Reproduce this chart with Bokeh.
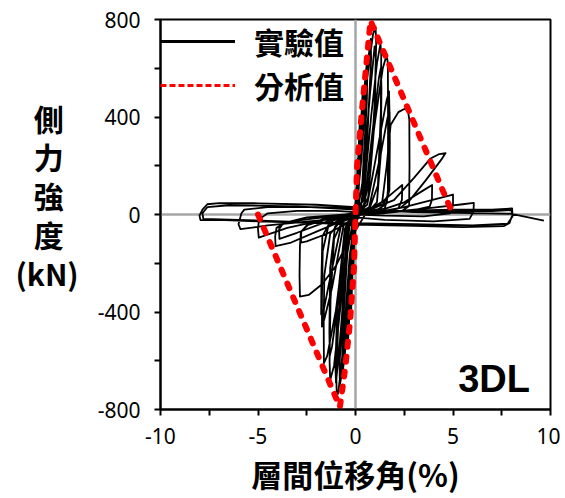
from bokeh.plotting import figure
from bokeh.models import Range1d, FixedTicker, Span, Legend, LegendItem, Label
from bokeh.embed import file_html
from bokeh.resources import INLINE

# ---------------- data ----------------
x_ticks = [-10, -5, 0, 5, 10]
x_minor = [-7.5, -2.5, 2.5, 7.5]
y_ticks = [-800, -400, 0, 400, 800]
y_minor = [-600, -200, 200, 600]

# analytical envelope (drift %, kN)
ana_drift = [-5.0, -0.8, -0.52, -0.28, -0.08, 0.0, 0.08, 0.34, 0.77, 5.0]
ana_force = [0, -790, -625, -440, -220, 0, 200, 435, 795, 0]

# experimental hysteresis (drift %, kN)
exp_pts = [
    (0, 0), (0.05, 110), (0.03, 50), (-0.02, 0), (-0.05, -110), (-0.03, -50), (0.02, 0),
    (0.12, 230), (0.08, 110), (-0.02, 0), (-0.12, -240), (-0.08, -110), (0.02, 0),
    (0.22, 380), (0.17, 230), (0.05, 30), (-0.05, -10), (-0.22, -390), (-0.17, -230), (-0.05, -30), (0.05, 0),
    (0.2, 250), (0.38, 520), (0.33, 360), (0.15, 80), (0.0, 0),
    (-0.2, -260), (-0.4, -540), (-0.35, -360), (-0.15, -70), (0.0, 0),
    (0.25, 250), (0.5, 560), (0.62, 650), (0.58, 460), (0.35, 130), (0.1, 10),
    (-0.25, -240), (-0.55, -580), (-0.7, -670), (-0.66, -480), (-0.42, -160), (-0.1, -10),
    (0.3, 220), (0.6, 600), (0.78, 720), (0.8, 640), (0.6, 300), (0.3, 40), (0.0, 0),
    (-0.3, -220), (-0.6, -600), (-0.8, -700), (-0.82, -620), (-0.62, -300), (-0.3, -40), (0.0, 0),
    (0.25, 180), (0.6, 560), (0.9, 740), (1.03, 770), (1.06, 700), (0.98, 450), (0.75, 160), (0.4, 30), (0.0, 0),
    (-0.3, -170), (-0.65, -560), (-0.88, -730), (-0.96, -745), (-0.98, -680), (-0.88, -430), (-0.6, -140), (-0.3, -20), (0.0, 0),
    (0.35, 120), (0.75, 500), (0.98, 690), (1.04, 640), (0.98, 380), (0.65, 70), (0.2, 0),
    (-0.4, -120), (-0.8, -520), (-1.0, -690), (-1.03, -620), (-0.92, -350), (-0.55, -60), (-0.2, 0),
    (0.4, 60), (0.8, 400), (1.1, 620), (1.28, 700), (1.32, 660), (1.3, 420), (1.15, 120), (0.7, 20), (0.1, 0),
    (-0.4, -60), (-0.8, -400), (-1.1, -620), (-1.3, -680), (-1.33, -600), (-1.28, -350), (-1.1, -100), (-0.6, -15), (-0.1, 0),
    (0.45, 40), (0.9, 360), (1.2, 560), (1.3, 600), (1.33, 520), (1.3, 250), (1.1, 50), (0.6, 8), (0.1, 0),
    (-0.45, -40), (-0.9, -360), (-1.2, -540), (-1.32, -580), (-1.34, -480), (-1.3, -220), (-1.05, -50), (-0.5, -5), (-0.1, 0),
    (0.5, 70), (1.0, 380), (1.4, 600), (1.6, 655), (1.66, 620), (1.67, 350), (1.66, 80), (1.3, 25), (0.6, 8), (0.0, 0),
    (-0.5, -70), (-1.0, -390), (-1.45, -580), (-1.62, -610), (-1.63, -450), (-1.6, -250), (-1.3, -80), (-0.6, -10), (0.0, 0),
    (0.6, 40), (1.2, 300), (1.6, 470), (1.72, 505), (1.74, 430), (1.73, 160), (1.6, 45), (1.0, 12), (0.3, 0),
    (-0.6, -40), (-1.2, -300), (-1.6, -430), (-1.72, -460), (-1.72, -340), (-1.68, -150), (-1.4, -50), (-0.6, -10), (0.0, 0),
    (0.7, 30), (1.3, 250), (1.65, 400), (1.75, 420), (1.76, 300), (1.74, 100), (1.5, 25), (0.8, 5), (0.2, 0),
    (-0.7, -30), (-1.3, -260), (-1.65, -400), (-1.76, -410), (-1.75, -280), (-1.7, -90), (-1.3, -30), (-0.5, -5), (0.0, 0),
    (0.5, 10), (1.37, 52), (1.6, 200), (1.8, 367), (2.2, 420), (2.5, 433), (2.68, 428), (2.76, 390), (2.77, 200), (2.75, 35), (2.4, 15), (1.5, 8), (0.5, 0),
    (-0.5, -130), (-1.0, -210), (-1.7, -285), (-2.4, -330), (-2.85, -337), (-2.87, -250), (-2.85, -130), (-2.8, -70), (-2.4, -40), (-1.5, -15), (-0.5, 0),
    (0.3, 10), (1.2, 40), (2.0, 95), (2.4, 121), (2.38, 60), (2.2, 25), (1.5, 10), (0.3, 0),
    (-0.5, -40), (-1.5, -80), (-2.5, -110), (-2.8, -115), (-2.78, -70), (-2.5, -45), (-1.5, -20), (-0.3, 0),
    (0.4, 10), (1.97, 59), (3.0, 150), (3.85, 230), (4.3, 248), (4.62, 252), (4.4, 225), (3.6, 140), (2.8, 60), (2.3, 27), (1.5, 12), (0.3, 0),
    (-0.5, -20), (-2.0, -70), (-3.3, -115), (-4.1, -130), (-4.12, -90), (-4.05, -55), (-3.5, -30), (-2.0, -15), (0.0, 0),
    (1.0, 10), (2.5, 50), (3.5, 100), (3.93, 121), (3.92, 60), (3.8, 32), (3.0, 18), (1.5, 6), (0.0, 0),
    (-1.5, -30), (-3.0, -75), (-3.9, -100), (-3.92, -60), (-3.7, -35), (-2.5, -12), (-0.5, 0),
    (0.5, 0), (2.5, 30), (4.2, 65), (5.0, 82), (5.0, 35), (4.85, 5), (3.5, -8), (1.5, -5), (0.0, 0),
    (-1.5, -20), (-3.5, -55), (-4.96, -95), (-5.0, -60), (-4.95, -20), (-4.5, 5), (-3.0, 15), (-1.0, 15), (0.0, 10),
    (1.5, 8), (4.0, 28), (5.5, 42), (6.07, 48), (6.05, 12), (5.85, -18), (4.0, -28), (1.5, -22), (0.0, -12),
    (-2.0, -25), (-4.5, -45), (-5.9, -60), (-6.0, -40), (-5.85, 5), (-5.7, 20), (-4.5, 30), (-2.0, 30), (0.0, 25),
    (2.0, 15), (5.0, 20), (7.0, 20), (8.03, 25), (8.05, 0), (7.9, -35), (7.6, -48), (5.5, -52), (3.0, -47), (0.5, -42),
    (-2.0, -35), (-5.0, -28), (-7.0, -22), (-7.95, -23), (-8.0, -5), (-7.85, 20), (-7.6, 42), (-7.0, 47), (-5.0, 46), (-2.0, 40), (0.0, 30), (1.0, 15),
    (4.0, 12), (7.0, 14), (8.0, 18), (8.05, -8), (7.8, -38), (6.0, -45), (3.0, -40), (0.0, -35),
    (-3.0, -30), (-6.0, -22), (-7.8, -18), (-7.85, 5), (-7.6, 30), (-6.5, 38), (-3.0, 33), (0.0, 20),
    (3.0, 10), (6.0, 6), (8.0, 3), (9.66, -25),
]
exp_drift = [pt[0] for pt in exp_pts]
exp_force = [pt[1] for pt in exp_pts]

legend_labels = ["實驗值", "分析值"]
x_title = "層間位移角(%)"
y_title = "側\u2002\n力\u2002\n強\u2002\n度\u2002\n(kN)\n "
tag = "3DL"

CJK = "Noto Sans CJK TC"

# ---------------- figure ----------------
p = figure(width=560, height=498, x_range=Range1d(-10, 10), y_range=Range1d(-800, 800),
           output_backend="svg", toolbar_location=None,
           min_border_left=160, min_border_right=10, min_border_top=19, min_border_bottom=88)
p.xgrid.visible = False
p.ygrid.visible = False
p.outline_line_color = "black"
p.outline_line_width = 2
p.background_fill_color = "white"

for sp in (Span(location=0, dimension="width"), Span(location=0, dimension="height")):
    sp.line_color = "#a6a6a6"
    sp.line_width = 2.5
    sp.level = "underlay"
    p.add_layout(sp)

p.line(exp_drift, exp_force, line_color="black", line_width=1.8, line_join="round")
p.line(ana_drift, ana_force, line_color="#ff0000", line_width=6, line_dash="5 10",
       line_cap="round", line_join="round")

nan = float("nan")
leg_exp = p.line(x=[nan], y=[nan], line_color="black", line_width=3)
leg_ana = p.line(x=[nan], y=[nan], line_color="#ff0000", line_width=3, line_dash="6 3")
legend = Legend(items=[LegendItem(label=legend_labels[0], renderers=[leg_exp]),
                       LegendItem(label=legend_labels[1], renderers=[leg_ana])],
                location="top_left", margin=0, padding=6, spacing=0,
                glyph_width=75, glyph_height=34, label_height=34, label_standoff=19,
                label_text_font=CJK, label_text_font_size="30px", label_text_font_style="bold",
                label_text_color="black",
                background_fill_alpha=0, border_line_color=None)
p.add_layout(legend)

for ax, ticks, minor in ((p.xaxis[0], x_ticks, x_minor), (p.yaxis[0], y_ticks, y_minor)):
    ax.ticker = FixedTicker(ticks=ticks, minor_ticks=minor)
    ax.major_label_overrides = {t: str(t) for t in ticks}
    ax.major_label_text_font = "Noto Sans"
    ax.major_label_text_font_size = "21px"
    ax.major_label_text_color = "black"
    ax.axis_line_width = 2
    ax.axis_line_color = "black"
    ax.major_tick_line_width = 2
    ax.minor_tick_line_width = 2
    ax.major_tick_line_color = "black"
    ax.minor_tick_line_color = "black"
    ax.major_tick_out = 6
    ax.major_tick_in = 0
    ax.minor_tick_out = 6
    ax.minor_tick_in = 0
    ax.axis_label_text_font = CJK
    ax.axis_label_text_font_style = "bold"
    ax.axis_label_text_color = "black"

xax = p.xaxis[0]
xax.major_label_standoff = 12
xax.axis_label = x_title
xax.axis_label_text_font_size = "31px"
xax.axis_label_standoff = 4

yax = p.yaxis[0]
yax.major_label_standoff = 14
yax.axis_label = y_title
yax.axis_label_text_font_size = "30px"
yax.axis_label_standoff = 16
yax.axis_label_text_line_height = 0.88
if "axis_label_orientation" in yax.properties():
    yax.axis_label_orientation = "horizontal"

p.add_layout(Label(x=8.95, y=-674, x_units="data", y_units="data", text=tag,
                   text_align="right", text_baseline="alphabetic", text_font="Liberation Sans",
                   text_font_size="38px", text_font_style="bold", text_color="black"))

open("out.html", "w").write(file_html(p, INLINE))
